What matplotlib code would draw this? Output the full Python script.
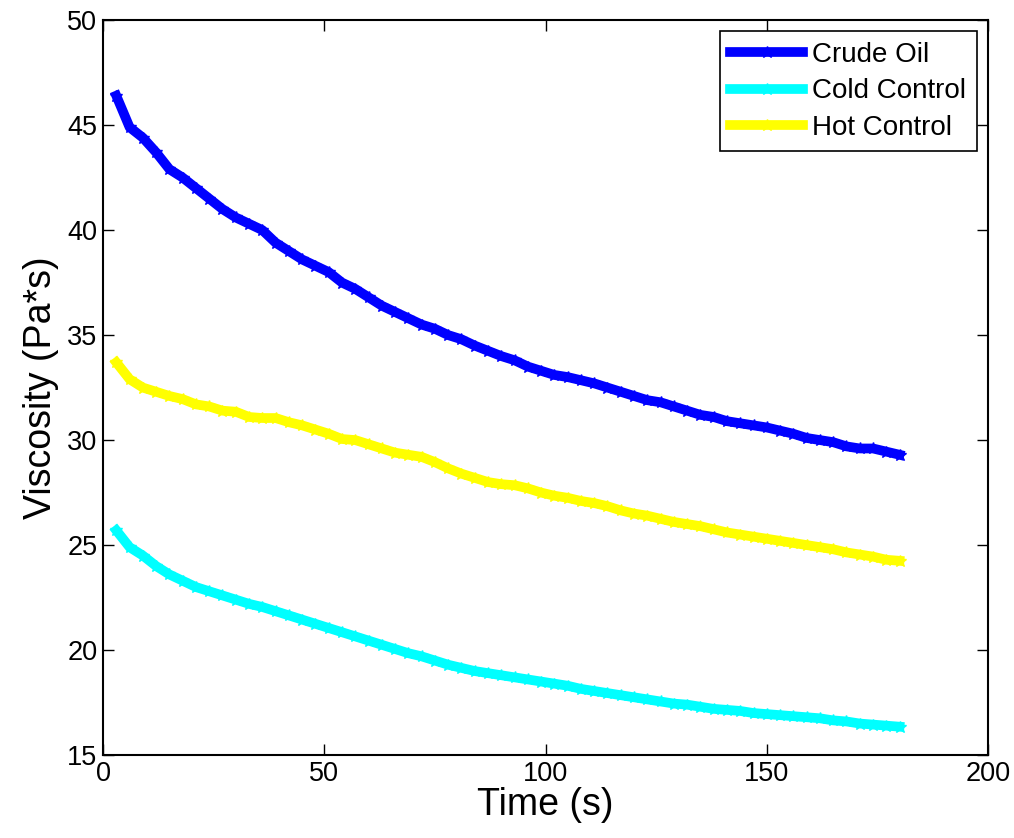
import numpy as np
import matplotlib
matplotlib.use("Agg")
import matplotlib.pyplot as plt

plt.rcParams['font.family'] = ['Liberation Sans', 'DejaVu Sans']

# sample times (s), one reading every 3 s
time_s = list(range(3, 181, 3))

crude_oil = [46.4, 44.9, 44.4, 43.7, 42.9, 42.5, 42.0, 41.5, 41.0, 40.6,
             40.3, 40.0, 39.4, 39.0, 38.6, 38.3, 38.0, 37.5, 37.2, 36.8,
             36.4, 36.1, 35.8, 35.5, 35.3, 35.0, 34.8, 34.5, 34.25, 34.0,
             33.8, 33.5, 33.3, 33.1, 33.0, 32.85, 32.7, 32.5, 32.3, 32.1,
             31.9, 31.8, 31.6, 31.4, 31.2, 31.1, 30.9, 30.8, 30.7, 30.6,
             30.45, 30.3, 30.1, 30.0, 29.9, 29.7, 29.6, 29.6, 29.45, 29.3]

cold_control = [25.7, 24.9, 24.5, 24.0, 23.6, 23.3, 23.0, 22.8, 22.6, 22.4,
                22.2, 22.05, 21.85, 21.65, 21.45, 21.25, 21.05, 20.85, 20.65, 20.45,
                20.25, 20.05, 19.85, 19.7, 19.5, 19.3, 19.15, 19.0, 18.9, 18.8,
                18.7, 18.6, 18.5, 18.4, 18.3, 18.15, 18.05, 17.95, 17.85, 17.75,
                17.65, 17.55, 17.45, 17.4, 17.3, 17.2, 17.15, 17.1, 17.0, 16.95,
                16.9, 16.85, 16.8, 16.75, 16.65, 16.6, 16.5, 16.45, 16.4, 16.35]

hot_control = [33.7, 32.9, 32.5, 32.3, 32.1, 31.95, 31.7, 31.6, 31.4, 31.35,
               31.1, 31.05, 31.05, 30.85, 30.7, 30.5, 30.3, 30.05, 30.0, 29.8,
               29.6, 29.4, 29.3, 29.2, 28.95, 28.65, 28.4, 28.2, 28.0, 27.9,
               27.85, 27.7, 27.5, 27.35, 27.25, 27.1, 27.0, 26.85, 26.65, 26.5,
               26.4, 26.25, 26.1, 26.0, 25.9, 25.75, 25.6, 25.5, 25.4, 25.3,
               25.2, 25.1, 25.0, 24.9, 24.8, 24.65, 24.55, 24.45, 24.3, 24.25]

series = [("Crude Oil", crude_oil, "#0000ff"),
          ("Cold Control", cold_control, "#00ffff"),
          ("Hot Control", hot_control, "#ffff00")]

fig = plt.figure(figsize=(10.14, 8.38), dpi=100)
ax = fig.add_axes([0.1016, 0.099, 0.8728, 0.877])

for name, values, color in series:
    ax.plot(time_s, values, color=color, linewidth=7, marker='*',
            markersize=9, markeredgewidth=1, label=name)

ax.set_xlim(0, 200)
ax.set_ylim(15, 50)
ax.set_xticks(np.arange(0, 201, 50))
ax.set_yticks(np.arange(15, 51, 5))

ax.set_xlabel("Time (s)", fontsize=27, labelpad=0)
ax.set_ylabel("Viscosity (Pa*s)", fontsize=27, labelpad=6)

ax.tick_params(direction='in', length=8, width=1, top=True, right=True,
               labelsize=19.5, pad=4)
for spine in ax.spines.values():
    spine.set_linewidth(1.5)

leg = ax.legend(loc='upper right', fontsize=20, fancybox=False, framealpha=1,
                edgecolor='black', borderaxespad=0.4, handlelength=2.6,
                handletextpad=0.35, labelspacing=0.38, borderpad=0.38)
leg.get_frame().set_linewidth(1.2)

fig.savefig("out.png", dpi=100)
